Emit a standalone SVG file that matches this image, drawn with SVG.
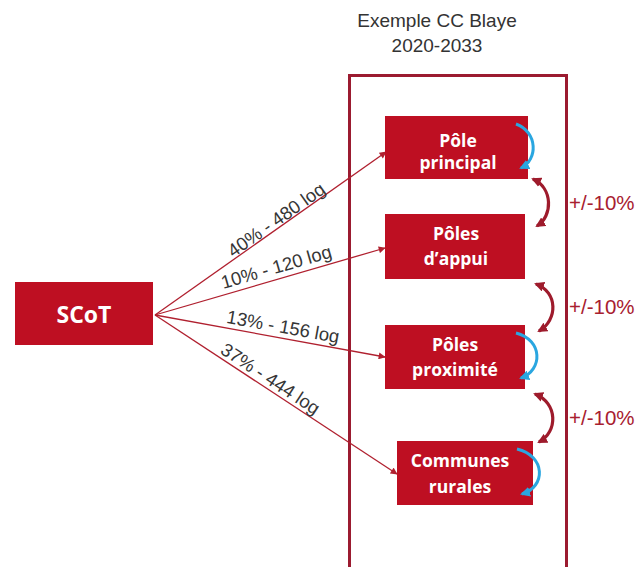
<svg xmlns="http://www.w3.org/2000/svg" width="643" height="567" viewBox="0 0 643 567">
<style>
.box{fill:#BE0F22;}
.bt{font-family:"Open Sans","Liberation Sans",sans-serif;font-weight:bold;fill:#FFFFFF;text-anchor:middle;font-size:17.5px;}
.lbl{font-family:"Liberation Sans",Arial,sans-serif;fill:#363636;text-anchor:middle;font-size:18.5px;}
.pct{font-family:"Liberation Sans",Arial,sans-serif;fill:#A8202F;font-size:20.5px;}
.title{font-family:"Liberation Sans",Arial,sans-serif;fill:#333333;text-anchor:middle;font-size:19px;}
.ln{fill:none;stroke:#B0202F;stroke-width:1.3;marker-end:url(#ah);}
.rc{fill:none;stroke:#9E1B2C;stroke-width:3.2;marker-start:url(#rh);marker-end:url(#rh);}
.bc{fill:none;stroke:#2AA6E0;stroke-width:3;marker-end:url(#bh);}
</style>
<defs>
<marker id="ah" viewBox="0 0 10 10" refX="9" refY="5" markerWidth="8" markerHeight="7" markerUnits="userSpaceOnUse" orient="auto"><path d="M0,0 L10,5 L0,10 z" fill="#B0202F"/></marker>
<marker id="rh" viewBox="0 0 10 10" refX="8" refY="5" markerWidth="10" markerHeight="10" markerUnits="userSpaceOnUse" orient="auto-start-reverse"><path d="M0,0 L10,5 L0,10 z" fill="#9E1B2C"/></marker>
<marker id="bh" viewBox="0 0 10 10" refX="8" refY="5" markerWidth="10" markerHeight="10" markerUnits="userSpaceOnUse" orient="auto"><path d="M0,0 L10,5 L0,10 z" fill="#2AA6E0"/></marker>
</defs>

<g id="title">
<text class="title" x="437" y="27">Exemple CC Blaye</text>
<text class="title" x="437" y="52">2020-2033</text>
</g>

<g id="frame">
<rect x="349.5" y="75.5" width="217" height="495" fill="none" stroke="#9B1B30" stroke-width="3"/>
</g>

<g id="connectors">
<path class="ln" d="M155,315 L386,152"/>
<path class="ln" d="M155,315 L385,248"/>
<path class="ln" d="M155,315 L385,357"/>
<path class="ln" d="M155,315 L397,474"/>
<path class="rc" d="M533,179 C553,188 553,216 537,226"/>
<path class="rc" d="M536,284 C558,292 558,320 539,331"/>
<path class="rc" d="M535,394 C558,403 558,432 539,442"/>
</g>

<g id="edge-labels">
<text class="lbl" transform="translate(280,225) rotate(-35.2)">40% - 480 log</text>
<text class="lbl" transform="translate(278,273) rotate(-16.2)">10% - 120 log</text>
<text class="lbl" transform="translate(282,333) rotate(10.3)">13% - 156 log</text>
<text class="lbl" transform="translate(267,384) rotate(33.3)">37% - 444 log</text>
<text class="pct" x="569" y="210">+/-10%</text>
<text class="pct" x="569" y="314">+/-10%</text>
<text class="pct" x="569" y="425">+/-10%</text>
</g>

<g id="scot">
<rect class="box" x="15" y="282" width="138" height="63"/>
<text class="bt" x="84" y="323" style="font-size:23px">SCoT</text>
</g>

<g id="pole-principal">
<rect class="box" x="385" y="116" width="143" height="63"/>
<text class="bt" x="458" y="147">Pôle</text>
<text class="bt" x="458" y="169">principal</text>
</g>

<g id="poles-appui">
<rect class="box" x="385" y="214" width="140" height="65"/>
<text class="bt" x="456" y="240">Pôles</text>
<text class="bt" x="456" y="265">d’appui</text>
</g>

<g id="poles-proximite">
<rect class="box" x="385" y="325" width="140" height="64"/>
<text class="bt" x="455" y="351">Pôles</text>
<text class="bt" x="455" y="376">proximité</text>
</g>

<g id="communes-rurales">
<rect class="box" x="397" y="441" width="136" height="64"/>
<text class="bt" x="460" y="467">Communes</text>
<text class="bt" x="460" y="493">rurales</text>
</g>

<g id="loops">
<path class="bc" d="M516,124 C538,132 538,160 521,168"/>
<path class="bc" d="M516,333 C543,340 543,370 521,378"/>
<path class="bc" d="M517,449 C546,456 546,487 522,494"/>
</g>
</svg>
